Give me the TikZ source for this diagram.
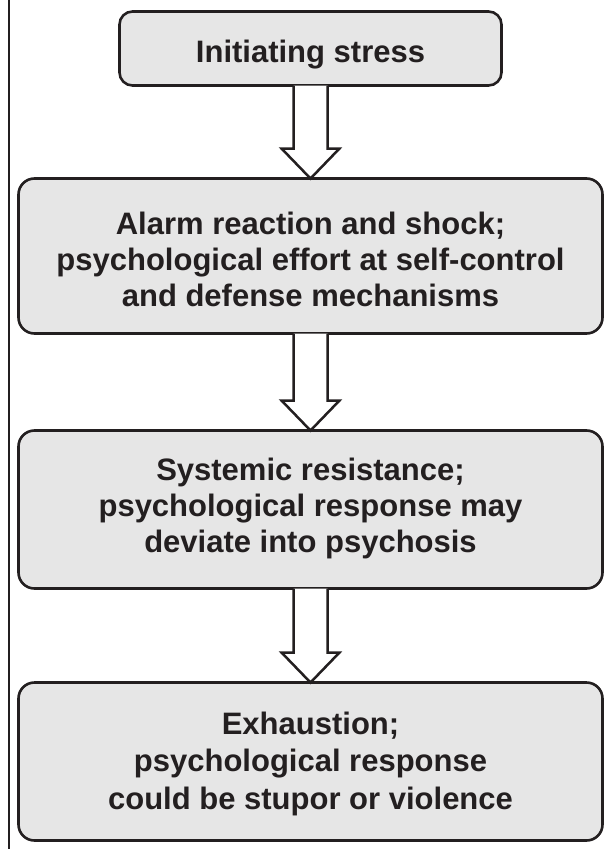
\documentclass[tikz,border=0pt]{standalone}
\usepackage{fontspec}
\setmainfont{Liberation Sans}
\usetikzlibrary{calc}
\definecolor{ink}{RGB}{35,31,32}
\definecolor{boxfill}{RGB}{230,230,230}
\tikzset{
  stagebox/.style={draw=ink, fill=boxfill, line width=2.6bp, rounded corners=16bp,
    inner sep=0pt, outer sep=0pt},
  lbl/.style={text=ink, align=center, inner sep=0pt, outer sep=0pt,
    font=\bfseries\fontsize{31bp}{36bp}\selectfont},
  blockarr/.style={draw=ink, fill=white, line width=2.5bp, line join=miter},
}
\begin{document}
\begin{tikzpicture}[x=1bp, y=-1bp]
\useasboundingbox (0,0) rectangle (606,849);
% left rule
\draw[ink, line width=2.6bp] (9,0) -- (9,849);
% boxes
\node[stagebox, rounded corners=13bp, minimum width=382bp, minimum height=74bp] (b1) at (310.5,48.5) {};
\node[stagebox, minimum width=584bp, minimum height=155bp] (b2) at (310.5,256) {};
\node[stagebox, minimum width=584bp, minimum height=158bp] (b3) at (310.5,509.5) {};
\node[stagebox, minimum width=584bp, minimum height=158bp] (b4) at (310.5,761.5) {};
% labels
\node[lbl] (t1) at (310.5,54.9) {Initiating stress};
\node[lbl] (t2) at (310.5,259.6) {Alarm reaction and shock;\\psychological effort at self-control\\and defense mechanisms};
\node[lbl] (t3) at (310.5,508) {Systemic resistance;\\psychological response may\\deviate into psychosis};
\node[lbl, font=\bfseries\fontsize{31bp}{37.5bp}\selectfont] (t4) at (310.5,763.5) {Exhaustion;\\psychological response\\could be stupor or violence};
% block arrows
\draw[blockarr] ($(b1.south)+(-17,0)$) -- ($(b2.north)+(-17,-30)$) -- ($(b2.north)+(-29,-30)$) -- (b2.north) -- ($(b2.north)+(29,-30)$) -- ($(b2.north)+(17,-30)$) -- ($(b1.south)+(17,0)$);
\draw[blockarr] ($(b2.south)+(-17,0)$) -- ($(b3.north)+(-17,-30)$) -- ($(b3.north)+(-29,-30)$) -- (b3.north) -- ($(b3.north)+(29,-30)$) -- ($(b3.north)+(17,-30)$) -- ($(b2.south)+(17,0)$);
\draw[blockarr] ($(b3.south)+(-17,0)$) -- ($(b4.north)+(-17,-30)$) -- ($(b4.north)+(-29,-30)$) -- (b4.north) -- ($(b4.north)+(29,-30)$) -- ($(b4.north)+(17,-30)$) -- ($(b3.south)+(17,0)$);
\end{tikzpicture}
\end{document}
